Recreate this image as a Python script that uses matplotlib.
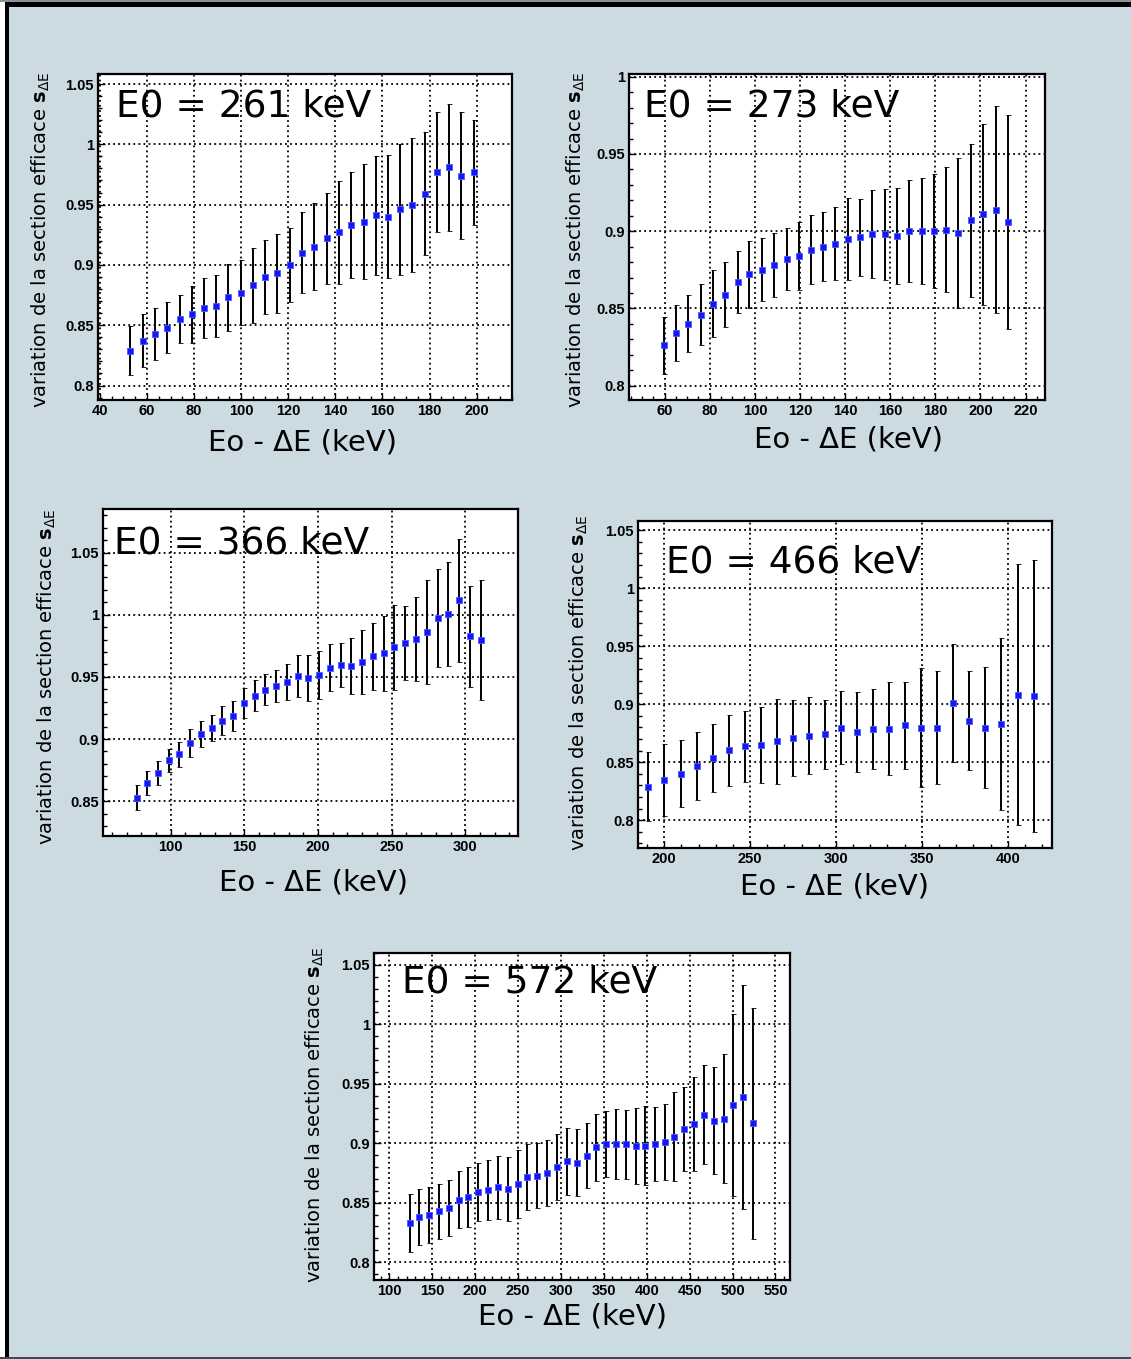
import matplotlib
matplotlib.use("Agg")
import matplotlib.pyplot as plt
from matplotlib.ticker import MultipleLocator, FuncFormatter
from matplotlib.patches import Rectangle

W, H = 1131, 1359

# ---------------- data ----------------
# E0 = 261 keV
e261_x = [52.9, 58.3, 63.5, 68.6, 73.9, 79.1, 84.3, 89.4, 94.6, 99.9, 105.1, 110.3,
          115.4, 120.8, 125.9, 131.1, 136.4, 141.6, 146.8, 152.1, 157.2, 162.4,
          167.5, 172.7, 177.9, 183.2, 188.4, 193.5, 198.9]
e261_y = [0.829, 0.837, 0.843, 0.848, 0.855, 0.859, 0.864, 0.866, 0.873, 0.877,
          0.883, 0.890, 0.893, 0.900, 0.910, 0.915, 0.922, 0.927, 0.933, 0.936,
          0.941, 0.940, 0.946, 0.950, 0.959, 0.977, 0.981, 0.974, 0.977]
e261_err = [0.020, 0.022, 0.0215, 0.021, 0.020, 0.0235, 0.025, 0.026, 0.028, 0.027,
            0.031, 0.031, 0.033, 0.031, 0.0335, 0.036, 0.038, 0.0425, 0.044, 0.048,
            0.049, 0.051, 0.054, 0.0555, 0.051, 0.050, 0.0525, 0.0525, 0.0435]

# E0 = 273 keV
e273_x = [59.6, 64.9, 70.4, 75.9, 81.3, 86.7, 92.3, 97.6, 103.1, 108.6, 114.1, 119.4,
          124.9, 130.4, 135.7, 141.2, 146.7, 152.1, 157.5, 163.1, 168.4, 173.9,
          179.4, 184.9, 190.2, 195.7, 201.2, 206.7, 212.1]
e273_y = [0.826, 0.834, 0.840, 0.846, 0.853, 0.859, 0.867, 0.872, 0.875, 0.878,
          0.882, 0.884, 0.888, 0.890, 0.892, 0.895, 0.896, 0.898, 0.898, 0.897,
          0.900, 0.900, 0.900, 0.901, 0.899, 0.907, 0.911, 0.914, 0.906]
e273_err = [0.0187, 0.0181, 0.0184, 0.0198, 0.0216, 0.0209, 0.020, 0.0218, 0.0205,
            0.0207, 0.020, 0.022, 0.0224, 0.0225, 0.0236, 0.0266, 0.025, 0.0286,
            0.0296, 0.031, 0.033, 0.0345, 0.037, 0.0405, 0.0485, 0.0496, 0.0585,
            0.0672, 0.0695]

# E0 = 366 keV
e366_x = [76.9, 84.1, 91.4, 98.6, 105.9, 113.2, 120.6, 127.9, 135.1, 142.4, 149.7,
          156.9, 164.2, 171.7, 178.9, 186.2, 193.4, 200.7, 207.9, 215.4, 222.7,
          229.9, 237.4, 244.7, 251.9, 259.4, 266.7, 274.1, 281.2, 288.4, 295.7,
          302.9, 310.4]
e366_y = [0.8527, 0.8648, 0.8728, 0.8828, 0.8879, 0.8968, 0.9038, 0.9089, 0.9148,
          0.9188, 0.9288, 0.9347, 0.9398, 0.9427, 0.946, 0.9508, 0.9489, 0.9516,
          0.9575, 0.9597, 0.9586, 0.9618, 0.9667, 0.9688, 0.9737, 0.9769, 0.9806,
          0.9858, 0.9976, 1.0005, 1.0116, 0.9825, 0.9796]
e366_err = [0.0101, 0.0098, 0.0094, 0.0091, 0.0101, 0.011, 0.0105, 0.0102, 0.0118,
            0.012, 0.0121, 0.0125, 0.0126, 0.0132, 0.0145, 0.0169, 0.0184, 0.0194,
            0.0192, 0.0175, 0.0227, 0.0257, 0.027, 0.0301, 0.0343, 0.0297, 0.0337,
            0.0417, 0.0395, 0.0421, 0.0496, 0.0407, 0.048]

# E0 = 466 keV
e466_x = [190.7, 200.0, 209.5, 218.8, 228.2, 237.7, 247.0, 256.3, 265.6, 275.0,
          284.3, 293.6, 302.9, 312.2, 321.6, 330.9, 340.2, 349.5, 358.8, 368.3,
          377.7, 387.0, 396.3, 405.8, 415.1]
e466_y = [0.829, 0.8348, 0.840, 0.8468, 0.8537, 0.8601, 0.8638, 0.865, 0.8681,
          0.871, 0.8727, 0.8739, 0.8799, 0.8761, 0.879, 0.879, 0.8819, 0.8799,
          0.8799, 0.9009, 0.8859, 0.8799, 0.8828, 0.908, 0.9072]
e466_err = [0.0295, 0.031, 0.029, 0.0295, 0.0292, 0.031, 0.0305, 0.033, 0.0366,
            0.0329, 0.0332, 0.0299, 0.0316, 0.0346, 0.0345, 0.0398, 0.0374, 0.0513,
            0.0487, 0.051, 0.0425, 0.0522, 0.0744, 0.1125, 0.1175]

# E0 = 572 keV
e572_x = [123.7, 135.0, 146.6, 157.9, 169.5, 180.8, 192.1, 203.3, 215.0, 226.3,
          237.9, 249.6, 260.8, 272.5, 283.8, 295.4, 306.7, 318.3, 330.0, 341.3,
          352.9, 364.2, 375.8, 387.1, 398.4, 409.6, 420.9, 432.2, 443.4, 455.1,
          466.7, 478.0, 489.7, 500.9, 512.6, 524.2]
e572_y = [0.8327, 0.8378, 0.8397, 0.8428, 0.8459, 0.8526, 0.8549, 0.8588, 0.8608,
          0.863, 0.8616, 0.8655, 0.8717, 0.8728, 0.8748, 0.8798, 0.8849, 0.8837,
          0.8896, 0.8966, 0.8992, 0.8992, 0.8992, 0.8978, 0.8978, 0.8992, 0.9008,
          0.9056, 0.912, 0.916, 0.9238, 0.9191, 0.9207, 0.932, 0.939, 0.9168]
e572_err = [0.0245, 0.0235, 0.0233, 0.023, 0.0235, 0.0241, 0.0252, 0.0245, 0.0251,
            0.0266, 0.0272, 0.0287, 0.0276, 0.0275, 0.0279, 0.0279, 0.028, 0.0282,
            0.0276, 0.0282, 0.0279, 0.0293, 0.0291, 0.0318, 0.0332, 0.0312, 0.0321,
            0.0371, 0.0355, 0.0394, 0.0416, 0.0448, 0.0541, 0.0767, 0.0939, 0.0971]

titles = ["E0 = 261 keV", "E0 = 273 keV", "E0 = 366 keV", "E0 = 466 keV", "E0 = 572 keV"]
xlabel = "Eo - \u0394E (keV)"
ylabel = r"variation de la section efficace $\mathbf{s}_{\Delta\mathrm{E}}$"

# ---------------- layout ----------------
plt.rcParams["mathtext.fontset"] = "dejavusans"

fig = plt.figure(figsize=(W / 100, H / 100), dpi=100, facecolor="#ccdbe2")


def fr(x0, y0, x1, y1):
    return [x0 / W, 1 - y1 / H, (x1 - x0) / W, (y1 - y0) / H]


# frame decorations
for (x0, y0, x1, y1, c) in [(0, 0, 5, H, "white"), (5, 2, 9, H - 2, "black"),
                            (5, 2, W, 7, "black"), (0, 0, W, 2, "#8a9298"),
                            (0, H - 2, W, H, "#3c4a55")]:
    fig.add_artist(Rectangle((x0 / W, 1 - y1 / H), (x1 - x0) / W, (y1 - y0) / H,
                             transform=fig.transFigure, facecolor=c,
                             edgecolor="none", zorder=0))

panels = [
    dict(x=e261_x, y=e261_y, e=e261_err, box=(98, 74, 512, 400),
         xlim=(39.2, 215.0), ylim=(0.788, 1.0583), xmaj=20, xmin=5,
         tpos=(0.043, 0.899), xl=(302, 443), yl=(41, 240)),
    dict(x=e273_x, y=e273_y, e=e273_err, box=(629, 74, 1045, 400),
         xlim=(44.2, 228.6), ylim=(0.7907, 1.0018), xmaj=20, xmin=5,
         tpos=(0.036, 0.900), xl=(849, 440), yl=(576, 240)),
    dict(x=e366_x, y=e366_y, e=e366_err, box=(103, 509, 518, 836),
         xlim=(54.0, 335.8), ylim=(0.822, 1.085), xmaj=50, xmin=10,
         tpos=(0.027, 0.893), xl=(314, 882), yl=(47, 677)),
    dict(x=e466_x, y=e466_y, e=e466_err, box=(638, 521, 1052, 848),
         xlim=(184.7, 425.8), ylim=(0.776, 1.058), xmaj=50, xmin=10,
         tpos=(0.068, 0.872), xl=(834, 886), yl=(579, 683)),
    dict(x=e572_x, y=e572_y, e=e572_err, box=(374, 953, 790, 1280),
         xlim=(82.1, 567.0), ylim=(0.785, 1.060), xmaj=50, xmin=10,
         tpos=(0.067, 0.911), xl=(572, 1316), yl=(315, 1115)),
]

fmt = FuncFormatter(lambda v, p: "%g" % round(v, 4))

for p, title in zip(panels, titles):
    ax = fig.add_axes(fr(*p["box"]))
    ax.set_facecolor("white")
    ax.set_xlim(*p["xlim"])
    ax.set_ylim(*p["ylim"])
    ax.xaxis.set_major_locator(MultipleLocator(p["xmaj"]))
    ax.xaxis.set_minor_locator(MultipleLocator(p["xmin"]))
    ax.yaxis.set_major_locator(MultipleLocator(0.05))
    ax.yaxis.set_minor_locator(MultipleLocator(0.01))
    ax.xaxis.set_major_formatter(fmt)
    ax.yaxis.set_major_formatter(fmt)
    ax.tick_params(which="both", direction="in", color="black", width=1.0,
                   top=False, right=False)
    ax.tick_params(which="major", length=5.0, pad=3)
    ax.tick_params(which="minor", length=2.8)
    for lab in ax.get_xticklabels() + ax.get_yticklabels():
        lab.set_fontfamily("Liberation Sans")
        lab.set_fontweight("bold")
        lab.set_fontsize(10.5)
    for s in ax.spines.values():
        s.set_linewidth(1.6)
        s.set_color("black")
    ax.grid(True, which="major", color="black", linewidth=1.3,
            linestyle=(0, (1.0, 1.8)))
    ax.set_axisbelow(False)
    ax.errorbar(p["x"], p["y"], yerr=p["e"], fmt="s", color="#1414ff",
                markersize=4.6, markeredgecolor="#4a5cff", markeredgewidth=0.6,
                ecolor="black", elinewidth=1.4, capsize=1.8, capthick=1.2,
                zorder=4)
    ax.text(p["tpos"][0], p["tpos"][1], title, transform=ax.transAxes,
            ha="left", va="center", fontsize=27, family="DejaVu Sans",
            color="black", zorder=3)
    fig.text(p["xl"][0] / W, 1 - p["xl"][1] / H, xlabel, ha="center",
             va="center", fontsize=21, family="DejaVu Sans")
    fig.text(p["yl"][0] / W, 1 - p["yl"][1] / H, ylabel, ha="center",
             va="center", rotation=90, fontsize=14, family="DejaVu Sans")

fig.savefig("out.png", dpi=100, facecolor=fig.get_facecolor())
